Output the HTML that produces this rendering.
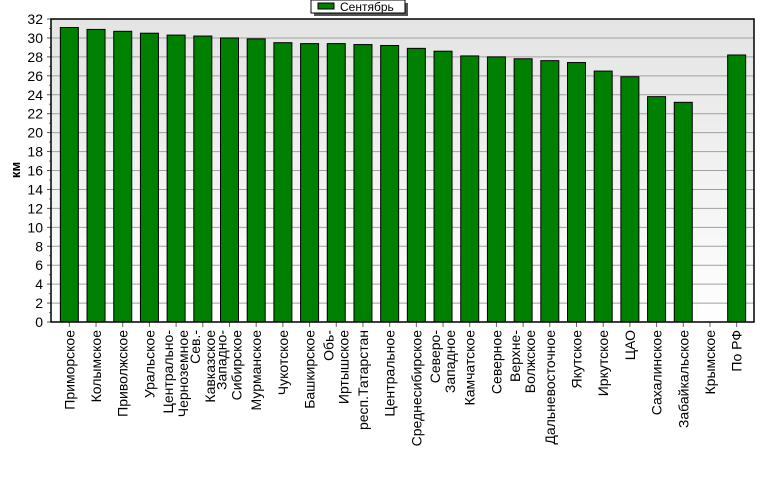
<!DOCTYPE html>
<html><head><meta charset="utf-8"><style>
html,body{margin:0;padding:0;background:#fff;}
svg{display:block;font-family:"Liberation Sans",sans-serif;}
</style></head><body>
<svg id="chart" width="777" height="479">
<defs><linearGradient id="bg" x1="0" y1="0" x2="0" y2="1"><stop offset="0" stop-color="#e4e4e4"/><stop offset="1" stop-color="#ffffff"/></linearGradient></defs>
<rect x="51" y="19" width="703" height="303" fill="url(#bg)"/>
<g id="grid"></g><g id="bars"></g><g id="yaxis"></g><g id="xaxis"></g>
<rect x="51" y="19" width="703" height="303" fill="none" stroke="#000" stroke-width="1.5"/>
<text x="20" y="170" font-size="13" font-weight="bold" transform="rotate(-90 20 170)" text-anchor="middle">км</text>
<g>
<rect x="314" y="3" width="94" height="13" fill="#555"/>
<rect x="311" y="0" width="94" height="13" fill="#fff" stroke="#000"/>
<rect x="318" y="3" width="16" height="6" fill="#008000" stroke="#000"/>
<text x="340" y="11" font-size="12">Сентябрь</text>
</g>
</svg>
<script>
const categories=[["Приморское"],["Колымское"],["Приволжское"],["Уральское"],["Центрально-","Черноземное"],["Сев.-","Кавказское"],["Западно-","Сибирское"],["Мурманское"],["Чукотское"],["Башкирское"],["Обь-","Иртышское"],["респ.Татарстан"],["Центральное"],["Среднесибирское"],["Северо-","Западное"],["Камчатское"],["Северное"],["Верхне-","Волжское"],["Дальневосточное"],["Якутское"],["Иркутское"],["ЦАО"],["Сахалинское"],["Забайкальское"],["Крымское"],["По РФ"]];
const values=[31.1,30.9,30.7,30.5,30.3,30.2,30.0,29.9,29.5,29.4,29.4,29.3,29.2,28.9,28.6,28.1,28.0,27.8,27.6,27.4,26.5,25.9,23.8,23.2,0,28.2];
const yTicks=[0,2,4,6,8,10,12,14,16,18,20,22,24,26,28,30,32];
const NS="http://www.w3.org/2000/svg";
const X0=56,X1=750,Y0=322,Y1=19,YMAX=32;
const band=(X1-X0)/categories.length;
function xc(i){return X0+(i+0.5)*band;}
function y(v){return Y0-(v/YMAX)*(Y0-Y1);}
function mk(t,a,p){const e=document.createElementNS(NS,t);for(const k in a)e.setAttribute(k,a[k]);p.appendChild(e);return e;}
const g=document.getElementById('grid'),b=document.getElementById('bars'),ya=document.getElementById('yaxis'),xa=document.getElementById('xaxis');
yTicks.forEach(t=>{
  const l=mk('line',{x1:51,x2:754,y1:y(t),y2:y(t),stroke:'#a0a0a0','stroke-width':1},g);
  
  
  const tx=mk('text',{x:43,y:y(t)+5,'font-size':14,'text-anchor':'end'},ya);
  tx.textContent=t;
  
  
  mk('line',{x1:47,x2:51,y1:y(t),y2:y(t),stroke:'#555'},ya);
  if(t<32)mk('line',{x1:49,x2:51,y1:y(t+1),y2:y(t+1),stroke:'#777'},ya);
});
values.forEach((v,i)=>{
  const bw=18;
  if(v>0){
    const r=mk('rect',{x:xc(i)-bw/2,y:y(v),width:bw,height:Y0-y(v),fill:'#008000',stroke:'#000','stroke-width':1},b);
    
    
  }
  mk('line',{x1:xc(i),x2:xc(i),y1:322,y2:327,stroke:'#666'},xa);
  const lines=categories[i];
  lines.forEach((s,j)=>{
    const off=lines.length===1?5:(j===0?-3:12);
    const x=xc(i)+off,yy=330;
    const t=mk('text',{x:x,y:yy,'font-size':14,'text-anchor':'end',transform:'rotate(-90 '+x+' '+yy+')'},xa);
    t.textContent=s;
    
    
  });
});
</script>
</body></html>
